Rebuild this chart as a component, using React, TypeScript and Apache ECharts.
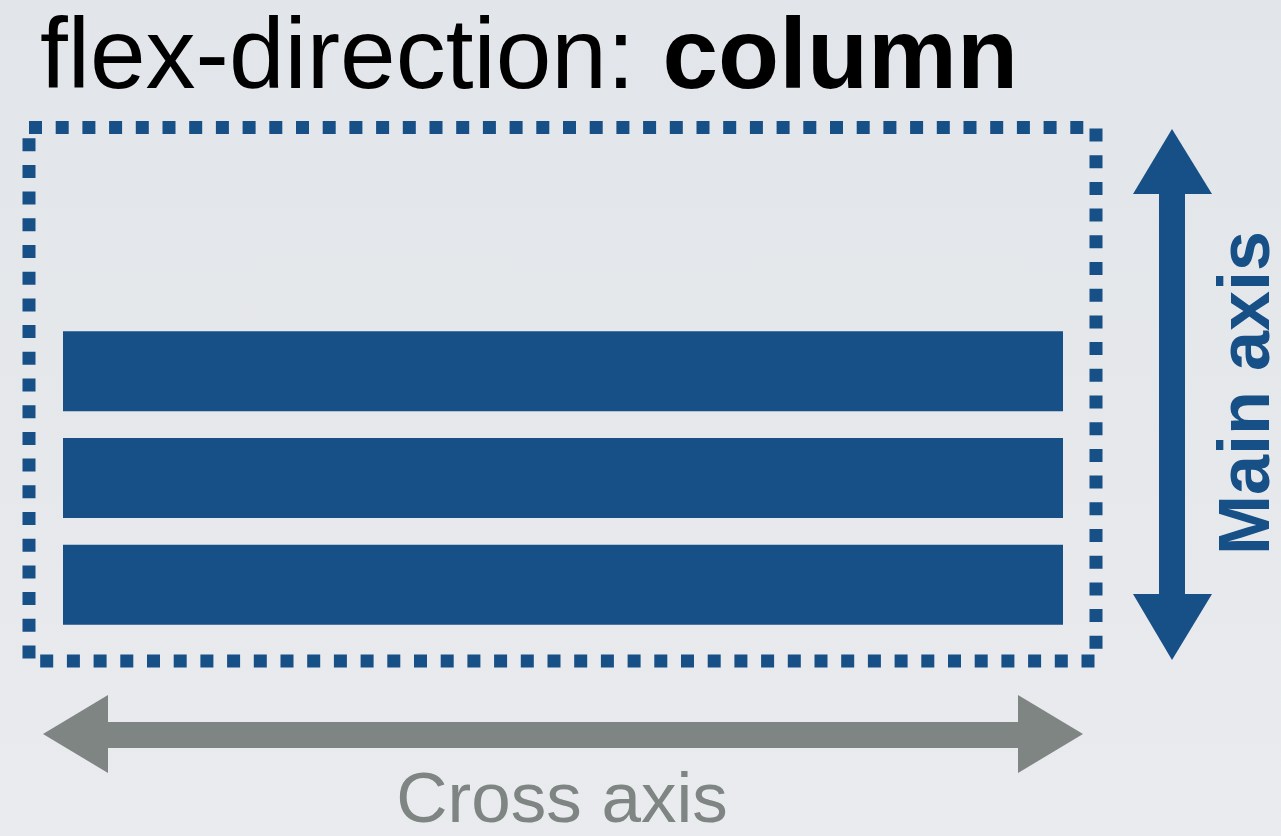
import React, { useEffect, useRef } from "react";
import * as echarts from "echarts";

const titleRegular = "flex-direction: ";
const titleBold = "column";
const mainAxisLabel = "Main axis";
const crossAxisLabel = "Cross axis";
const flexItems = ["Item 1", "Item 2", "Item 3"];
const itemSizes = [1, 1, 1];

const BLUE = "#174f87";
const GRAY = "#7f8582";
const FONT = "'Liberation Sans', Arial, Helvetica, sans-serif";

export default function App() {
  const ref = useRef<HTMLDivElement>(null);

  useEffect(() => {
    document.body.style.margin = "0";
    const chart = echarts.init(ref.current!, null, { renderer: "svg" });
    chart.setOption({
      animation: false,
      backgroundColor: {
        type: "linear",
        x: 0,
        y: 0,
        x2: 0,
        y2: 1,
        colorStops: [
          { offset: 0, color: "#e2e5e9" },
          { offset: 1, color: "#e9ebee" },
        ],
      },
      grid: { left: 63, right: 218, top: 318, bottom: 198 },
      xAxis: { type: "value", min: 0, max: 1, show: false },
      yAxis: { type: "category", data: flexItems, show: false, inverse: true },
      series: [
        {
          type: "bar",
          data: itemSizes,
          barWidth: 80,
          itemStyle: { color: BLUE },
          silent: true,
        },
      ],
      graphic: [
        {
          type: "rect",
          shape: { x: 29, y: 127.5, width: 1067, height: 533.5 },
          style: { fill: "none", stroke: BLUE, lineWidth: 13, lineDash: [13, 13.7] },
          silent: true,
        },
        // vertical main-axis arrow
        {
          type: "rect",
          shape: { x: 1159, y: 190, width: 26, height: 408 },
          style: { fill: BLUE },
        },
        {
          type: "polygon",
          shape: { points: [[1172, 129], [1212, 194], [1133, 194]] },
          style: { fill: BLUE },
        },
        {
          type: "polygon",
          shape: { points: [[1133, 594], [1212, 594], [1172, 660]] },
          style: { fill: BLUE },
        },
        // horizontal cross-axis arrow
        {
          type: "rect",
          shape: { x: 104, y: 722, width: 918, height: 26 },
          style: { fill: GRAY },
        },
        {
          type: "polygon",
          shape: { points: [[43, 734], [108, 695], [108, 773]] },
          style: { fill: GRAY },
        },
        {
          type: "polygon",
          shape: { points: [[1083, 734], [1018, 695], [1018, 773]] },
          style: { fill: GRAY },
        },
        {
          type: "text",
          x: 40,
          y: 53,
          style: {
            text: "{r|" + titleRegular + "}{b|" + titleBold + "}",
            verticalAlign: "middle",
            align: "left",
            rich: {
              r: { fontSize: 100, lineHeight: 100, fontFamily: FONT, fill: "#000", fontWeight: "normal" },
              b: { fontSize: 100, lineHeight: 100, fontFamily: FONT, fill: "#000", fontWeight: "bold" },
            },
          },
        },
        {
          type: "text",
          x: 562,
          y: 797,
          style: {
            text: crossAxisLabel,
            fontSize: 71,
            lineHeight: 71,
            fontFamily: FONT,
            fill: GRAY,
            align: "center",
            verticalAlign: "middle",
          },
        },
        {
          type: "text",
          x: 1244,
          y: 393,
          rotation: Math.PI / 2,
          style: {
            text: mainAxisLabel,
            fontSize: 72,
            lineHeight: 64,
            fontWeight: "bold",
            fontFamily: FONT,
            fill: BLUE,
            align: "center",
            verticalAlign: "middle",
          },
        },
      ],
    });
    return () => chart.dispose();
  }, []);

  return <div ref={ref} style={{ width: 1281, height: 836 }} />;
}
